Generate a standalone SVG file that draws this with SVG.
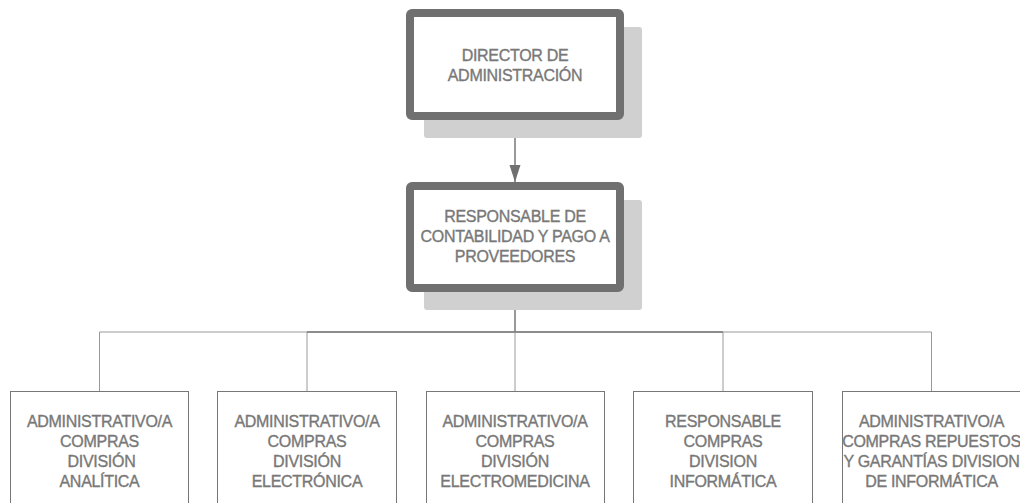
<svg xmlns="http://www.w3.org/2000/svg" width="1020" height="503" viewBox="0 0 1020 503">
<style>
.shadow{fill:#d0d0d0}
.main{fill:#fff;stroke:#707070;stroke-width:8}
.child{fill:#fff;stroke:#777;stroke-width:1}
.t{font-family:"Liberation Sans",Arial,sans-serif;font-size:16px;letter-spacing:-0.3px;fill:#787878;stroke:#787878;stroke-width:0.35px;text-anchor:middle}
.c{fill:none;stroke:#999;stroke-width:1}
.cd{fill:none;stroke:#777;stroke-width:1.5}
</style>
<g id="connectors">
<line class="cd" x1="515" y1="120" x2="515" y2="182"/>
<path d="M509.5,165 L520.5,165 L515,182 Z" fill="#707070"/>
<line class="cd" x1="515" y1="292" x2="515" y2="332"/>
<line class="c" x1="99.5" y1="332" x2="931.5" y2="332"/>
<line class="cd" x1="307" y1="332" x2="723" y2="332"/>
<line class="c" x1="99.5" y1="332" x2="99.5" y2="391"/>
<line class="c" x1="307" y1="332" x2="307" y2="391"/>
<line class="c" x1="515" y1="332" x2="515" y2="391"/>
<line class="c" x1="723" y1="332" x2="723" y2="391"/>
<line class="c" x1="931.5" y1="332" x2="931.5" y2="391"/>
</g>
<g id="director">
<rect class="shadow" x="424" y="27" width="218" height="111" rx="3"/>
<rect class="main" x="410" y="13" width="210" height="103" rx="2"/>
<text class="t" x="515" y="61">DIRECTOR DE</text>
<text class="t" x="515" y="81">ADMINISTRACIÓN</text>
</g>
<g id="responsable">
<rect class="shadow" x="424" y="200" width="218" height="110" rx="3"/>
<rect class="main" x="410" y="186" width="210" height="102" rx="2"/>
<text class="t" x="515" y="222">RESPONSABLE DE</text>
<text class="t" x="515" y="242">CONTABILIDAD Y PAGO A</text>
<text class="t" x="515" y="262">PROVEEDORES</text>
</g>
<g id="analitica">
<rect class="child" x="10.5" y="391.5" width="178" height="130"/>
<text class="t" x="99.5" y="427">ADMINISTRATIVO/A</text>
<text class="t" x="99.5" y="447">COMPRAS</text>
<text class="t" x="101.5" y="467">DIVISIÓN</text>
<text class="t" x="99.5" y="487">ANALÍTICA</text>
</g>
<g id="electronica">
<rect class="child" x="217.5" y="391.5" width="179" height="130"/>
<text class="t" x="307" y="427">ADMINISTRATIVO/A</text>
<text class="t" x="307" y="447">COMPRAS</text>
<text class="t" x="307" y="467">DIVISIÓN</text>
<text class="t" x="307" y="487">ELECTRÓNICA</text>
</g>
<g id="electromedicina">
<rect class="child" x="426.5" y="391.5" width="178" height="130"/>
<text class="t" x="515" y="427">ADMINISTRATIVO/A</text>
<text class="t" x="515" y="447">COMPRAS</text>
<text class="t" x="515" y="467">DIVISIÓN</text>
<text class="t" x="515" y="487">ELECTROMEDICINA</text>
</g>
<g id="informatica">
<rect class="child" x="633.5" y="391.5" width="179" height="130"/>
<text class="t" x="723" y="427">RESPONSABLE</text>
<text class="t" x="723" y="447">COMPRAS</text>
<text class="t" x="723" y="467">DIVISION</text>
<text class="t" x="723" y="487">INFORMÁTICA</text>
</g>
<g id="repuestos">
<rect class="child" x="842.5" y="391.5" width="178" height="130"/>
<text class="t" x="931.5" y="427">ADMINISTRATIVO/A</text>
<text class="t" x="931.5" y="447">COMPRAS REPUESTOS</text>
<text class="t" x="931.5" y="467">Y GARANTÍAS DIVISION</text>
<text class="t" x="931.5" y="487">DE INFORMÁTICA</text>
</g>
</svg>
